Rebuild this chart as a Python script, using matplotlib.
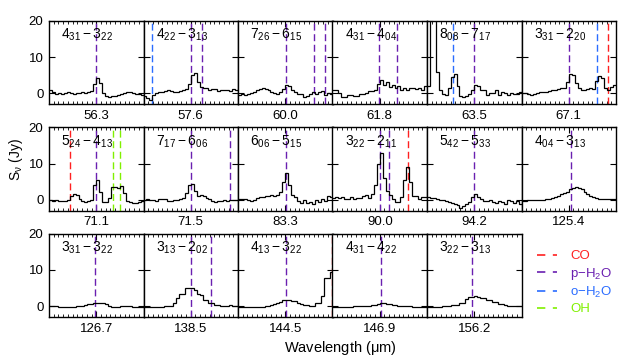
import numpy as np
import matplotlib
matplotlib.use('Agg')
import matplotlib.pyplot as plt
from matplotlib.lines import Line2D
from matplotlib.ticker import MultipleLocator

plt.rcParams['font.family'] = ['Liberation Sans', 'DejaVu Sans']
plt.rcParams['mathtext.fontset'] = 'custom'
plt.rcParams['mathtext.rm'] = 'Liberation Sans'
plt.rcParams['mathtext.it'] = 'Liberation Sans:italic'
plt.rcParams['mathtext.default'] = 'regular'

# central wavelength of each panel (tick label) and transition name
centres = ['56.3', '57.6', '60.0', '61.8', '63.5', '67.1',
           '71.1', '71.5', '83.3', '90.0', '94.2', '125.4',
           '126.7', '138.5', '144.5', '146.9', '156.2']
transitions = [('4', '31', '3', '22'), ('4', '22', '3', '13'), ('7', '26', '6', '15'),
               ('4', '31', '4', '04'), ('8', '08', '7', '17'), ('3', '31', '2', '20'),
               ('5', '24', '4', '13'), ('7', '17', '6', '06'), ('6', '06', '5', '15'),
               ('3', '22', '2', '11'), ('5', '42', '5', '33'), ('4', '04', '3', '13'),
               ('3', '31', '3', '22'), ('3', '13', '2', '02'), ('4', '13', '3', '22'),
               ('4', '31', '4', '22'), ('3', '22', '3', '13')]

# flux density (Jy), equal bins across the panel
s_56_3 = [1.0, 0.3, -0.3, 0.0, -0.2, 0.1, 0.3, 0.0, -0.2, 0.2, 0.0, 0.4, 0.1, 0.3, 0.6, 2.5,
          4.2, 2.8, 0.2, -0.7, -0.9, -0.8, -0.6, -0.5, -0.3, 0.2, 0.4, 0.5, 0.0, -0.1, -0.3, -0.5]
s_57_6 = [-0.6, -1.2, -1.9, -0.5, 0.2, 0.4, 0.3, 0.6, 0.8, 0.6, 0.4, 0.4, 0.7, 0.9, 1.3, 2.5,
          5.0, 5.6, 3.2, 1.8, 1.4, 1.5, 1.0, 1.1, 1.2, 0.7, 0.8, 0.8, 0.9, 0.7, 1.1, 0.9]
s_60_0 = [-0.5, -0.3, -0.4, -0.2, 0.0, 0.5, 0.8, 1.2, 1.4, 1.3, 1.0, 0.5, 0.0, -0.2, 0.4, 1.3,
          2.4, 2.0, 1.0, 0.4, -0.1, -0.3, -0.9, -0.7, -0.3, 0.4, -0.3, 0.4, 0.6, -0.4, 0.0, -0.1]
s_61_8 = [0.9, 0.8, 0.0, -0.9, -1.1, -0.5, -0.4, -0.6, -0.7, -0.2, -0.2, 0.2, 0.6, 0.7, 0.9, 2.5,
          3.7, 2.3, 3.2, 1.7, 2.3, 1.4, 2.0, 1.0, 1.6, 0.8, 1.4, 1.4, 1.2, 1.6, 0.9, 2.0]
s_63_5 = [2.0, 40.0, 40.0, 6.0, 0.8, -0.3, -0.5, 1.5, 4.5, 5.2, 2.0, -0.6, -1.0, -0.8, -0.2, 1.0,
          2.3, 2.1, 0.8, 0.9, -0.4, 0.0, 0.2, 0.8, -0.4, 0.5, 0.0, -0.4, 0.2, -0.2, -0.2, 0.5]
s_67_1 = [0.0, 0.1, -0.2, -0.5, -0.2, 0.1, 0.3, 0.5, 0.4, 0.6, 0.8, 1.0, 1.3, 1.4, 1.6, 3.2,
          5.3, 5.0, 2.8, 1.5, 0.9, 1.0, 1.2, 1.4, 1.1, 3.5, 4.8, 4.2, 1.5, 1.0, 1.7, 2.2]
s_71_1 = [0.0, -0.3, -0.1, -0.4, -0.2, -0.4, 0.1, 1.0, 1.6, 1.3, 0.4, -0.4, -0.5, -0.3, -0.1, 4.0,
          5.5, 2.2, -0.5, -0.6, 0.5, 3.5, 3.6, 3.4, 3.9, 1.8, -0.2, -0.6, -0.8, -0.7, -0.5, -0.4]
s_71_5 = [0.1, 0.2, 0.0, 0.1, -0.3, 0.3, 0.4, 0.2, -0.2, -0.4, -0.1, 0.0, 0.3, 0.6, 2.0, 4.2,
          4.4, 2.6, 1.2, 1.4, 1.2, 0.6, 0.4, -0.2, -0.5, -0.4, -0.2, 0.1, -0.3, -0.1, -0.1, 0.0]
s_83_3 = [0.3, 0.2, 0.4, 0.0, -0.2, -0.1, 0.6, 0.7, 0.8, 1.0, 1.2, 1.3, 1.1, 1.5, 2.2, 5.0,
          7.4, 4.0, 1.4, 0.8, -0.2, -0.7, 0.0, -0.8, -0.5, -1.0, 0.0, -0.6, 0.3, -0.2, 1.0, 0.7]
s_90_0 = [0.6, 0.8, 0.5, 0.7, 0.4, 0.2, 0.8, 0.3, 0.5, 0.6, 1.0, 1.3, 0.6, 1.6, 4.0, 10.0,
          12.8, 6.0, 2.6, 1.5, 0.2, -0.6, -0.6, 0.8, 5.5, 9.1, 5.0, 1.2, 1.1, 0.3, 0.9, 0.8]
s_94_2 = [0.7, 0.6, 0.5, 0.2, -0.1, 0.0, -0.4, -0.6, -0.9, -1.2, -1.4, -2.2, -1.6, -1.2, -0.6, 0.8,
          1.6, 0.7, 0.3, -0.2, -0.4, -0.1, -0.5, -0.8, -0.4, -0.5, -1.1, 0.1, -0.3, -0.9, -0.2, -1.1]
s_125_4 = [-0.2, -0.2, -0.1, -0.1, 0.0, 0.0, 0.1, 0.1, 0.2, 0.4, 0.6, 0.9, 1.1, 1.6, 2.0, 2.3,
           2.9, 3.4, 3.5, 3.4, 2.9, 2.2, 1.6, 1.2, 0.8, 0.6, 0.3, 0.3, 0.3, 0.3, 0.3, 0.3]
s_126_7 = [0.2, 0.2, 0.0, -0.2, -0.2, -0.2, -0.2, -0.1, -0.1, 0.0, 0.0, 0.2, 0.4, 0.6, 0.7, 0.9,
           0.9, 0.9, 0.8, 0.5, 0.0, -0.2, -0.2, -0.1, 0.0, 0.0, 0.0, 0.0, -0.1, -0.1, -0.1, -0.1]
s_138_5 = [-0.3, -0.3, -0.3, -0.3, -0.2, -0.2, -0.2, 0.0, 0.1, 0.1, 0.9, 2.2, 3.5, 3.5, 4.9, 4.9,
           4.9, 4.6, 3.5, 3.2, 1.7, 1.6, 1.0, 0.9, 0.4, 0.3, 0.2, 0.2, 0.2, 0.3, 0.2, 0.0]
s_144_5 = [-0.3, -0.3, -0.3, -0.3, -0.3, -0.2, -0.2, -0.2, -0.1, 0.0, 0.2, 0.3, 0.6, 0.9, 1.2, 1.7,
           1.7, 1.7, 1.5, 1.4, 0.8, 0.6, 0.4, 0.3, 0.1, 0.1, 0.9, 0.9, 2.9, 7.8, 7.8, 9.4]
s_146_9 = [-0.1, -0.1, -0.1, -0.1, -0.1, -0.1, -0.1, 0.0, 0.0, 0.0, 0.0, 0.1, 0.2, 0.3, 0.4, 0.7,
           0.9, 0.8, 0.6, 0.5, 0.4, 0.3, 0.2, 0.1, 0.1, 0.0, 0.0, -0.1, -0.1, -0.1, -0.1, -0.1]
s_156_2 = [-0.2, -0.2, -0.2, -0.1, -0.1, 0.0, 0.0, 0.0, 0.3, 0.3, 0.3, 0.9, 0.9, 1.9, 2.6, 2.6,
           2.7, 2.6, 2.4, 2.3, 1.7, 1.7, 1.1, 1.1, 0.5, 0.5, 0.4, 0.2, 0.2, 0.1, 0.0, 0.0]
spectra = [s_56_3, s_57_6, s_60_0, s_61_8, s_63_5, s_67_1, s_71_1, s_71_5, s_83_3,
           s_90_0, s_94_2, s_125_4, s_126_7, s_138_5, s_144_5, s_146_9, s_156_2]

# line positions (fraction of the panel width) and species
lines = [[('p', 0.50)],
         [('o', 0.095), ('p', 0.50), ('p', 0.62)],
         [('p', 0.51), ('p', 0.80), ('p', 0.92)],
         [('p', 0.49), ('p', 0.68)],
         [('o', 0.275), ('p', 0.50)],
         [('p', 0.50), ('o', 0.80), ('co', 0.915)],
         [('co', 0.22), ('p', 0.50), ('oh', 0.675), ('oh', 0.75)],
         [('p', 0.50), ('p', 0.92)],
         [('p', 0.51)],
         [('p', 0.50), ('p', 0.60), ('co', 0.80)],
         [('p', 0.50)],
         [('p', 0.525)],
         [('p', 0.49)],
         [('p', 0.50), ('p', 0.71)],
         [('p', 0.51), ('co', 0.99)],
         [('p', 0.51)],
         [('p', 0.48)]]

species = ['co', 'p', 'o', 'oh']
species_names = ['CO', 'p$-$H$_2$O', 'o$-$H$_2$O', 'OH']
couleurs = {'co': '#ff2020', 'p': '#6a1fb0', 'o': '#2a6cff', 'oh': '#80f000'}
tirets = (0, (5, 2.6))

fig = plt.figure(figsize=(6.29, 3.61), dpi=100)

W, H = 629.0, 361.0
x0 = 49.0
largeur = 94.5
hauteur = 83.6
hauts = [20.7, 127.3, 233.6]

for i, spec in enumerate(spectra):
    row, col = divmod(i, 6)
    gauche = (x0 + col * largeur) / W
    bas = 1 - (hauts[row] + hauteur) / H
    ax = fig.add_axes([gauche, bas, largeur / W, hauteur / H])

    bords = np.linspace(0, 1, len(spec) + 1)
    ax.stairs(spec, bords, baseline=None, color='k', lw=0.9, zorder=3)

    for sp, pos in lines[i]:
        ax.axvline(pos, color=couleurs[sp], lw=1.0, linestyle=tirets, zorder=2)

    a, b, c, d = transitions[i]
    ax.text(0.13, 0.83, '$%s_{%s}-%s_{%s}$' % (a, b, c, d), transform=ax.transAxes,
            fontsize=10, va='center', ha='left', zorder=4)

    ax.set_xlim(0, 1)
    ax.set_ylim(-3, 20)
    ax.set_xticks([0.5])
    ax.set_xticklabels([centres[i]])
    ax.xaxis.set_minor_locator(MultipleLocator(0.05))
    ax.set_yticks([0, 10, 20])
    ax.tick_params(which='both', direction='in', top=True, right=True, labelsize=9.5, pad=4)
    ax.tick_params(which='major', length=4, width=0.8)
    ax.tick_params(which='minor', length=2, width=0.6)
    if col != 0:
        ax.set_yticklabels([])
    for s in ax.spines.values():
        s.set_linewidth(1.0)

fig.text(0.026, 1 - 160 / H, r'S$_\nu$ (Jy)', rotation=90, fontsize=10,
         ha='center', va='center')
fig.text(340 / W, 1 - 348 / H, r'Wavelength ($\mu$m)', fontsize=10.5,
         ha='center', va='center')

poignees = [Line2D([], [], color=couleurs[sp], lw=1.2, linestyle=(0, (5, 4.5))) for sp in species]
fig.legend(poignees, species_names, loc='upper left', bbox_to_anchor=(537 / W, 1 - 250 / H),
           frameon=False, fontsize=9.5, handlelength=1.5, handletextpad=1.0,
           labelspacing=0.25, borderpad=0, borderaxespad=0,
           labelcolor=[couleurs[sp] for sp in species])

fig.savefig('out.png', dpi=100)
